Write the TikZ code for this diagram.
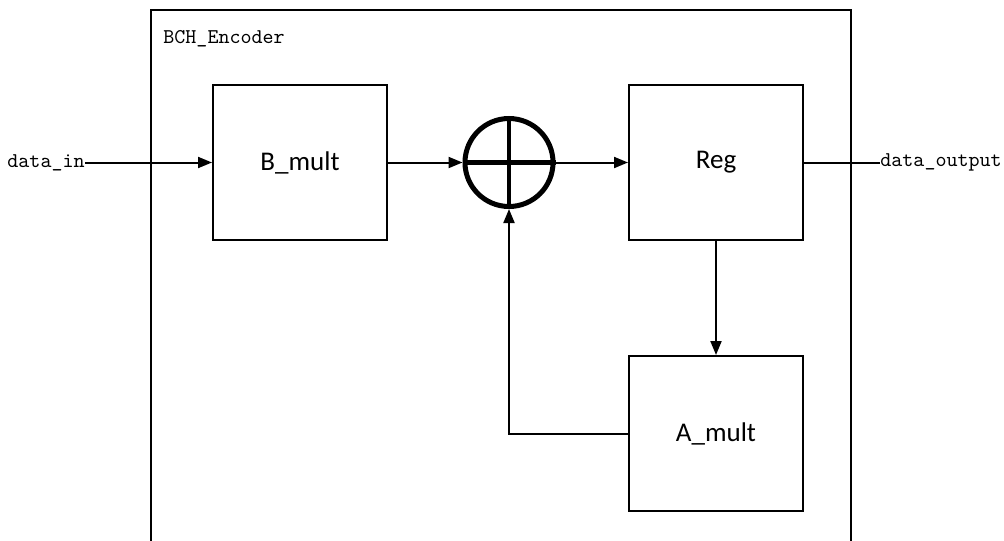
\documentclass[tikz,border=0pt]{standalone}
\usepackage{fontspec}
\setsansfont{Carlito}
\usetikzlibrary{arrows.meta, positioning}
\definecolor{lineDark}{HTML}{000000}

\begin{document}
\begin{tikzpicture}[x=0.5pt, y=-0.5pt,
    block/.style={draw=lineDark, line width=1pt, minimum width=87pt,
      minimum height=77.5pt, font=\sffamily\fontsize{13.5}{16}\selectfont},
    sig/.style={font=\ttfamily\fontsize{10.5}{12}\selectfont, inner sep=0pt},
    link/.style={-{Triangle[length=7pt, width=5.5pt]}, line width=1pt, lineDark}]
        \useasboundingbox (0,0) rectangle (1004,540);

        % Outer module (open at the bottom)
        \draw[lineDark, line width=1pt] (151,545) -- (151,10) -- (851,10) -- (851,545);
        \node[sig, anchor=north west] (top) at (163,30) {BCH\_Encoder};

        % Blocks
        \node[block] (bmult) at (300,162.5) {B\_mult};
        \node[block] (reg) at (716,162.5) {Reg};
        \node[block] (amult) at (716,433.5) {A\_mult};

        % XOR adder
        \node[draw=lineDark, circle, line width=2.5pt, minimum size=44pt,
          inner sep=0pt] (xor) at (509,162.5) {};
        \draw[lineDark, line width=2.2pt] (xor.north) -- (xor.south);
        \draw[lineDark, line width=2.2pt] (xor.west) -- (xor.east);

        % Ports
        \node[sig, anchor=east] (din) at (85,162.5) {data\_in};
        \node[sig, anchor=west] (dout) at (880,162.5) {data\_output};

        % Connections
        \draw[link] (din) -- (bmult);
        \draw[link] (bmult) -- (xor);
        \draw[link] (xor) -- (reg);
        \draw[link] (reg) -- (amult);
        \draw[link] (amult.west) -| (xor.south);
        \draw[lineDark, line width=1pt] (reg) -- (dout);
      \end{tikzpicture}
\end{document}
